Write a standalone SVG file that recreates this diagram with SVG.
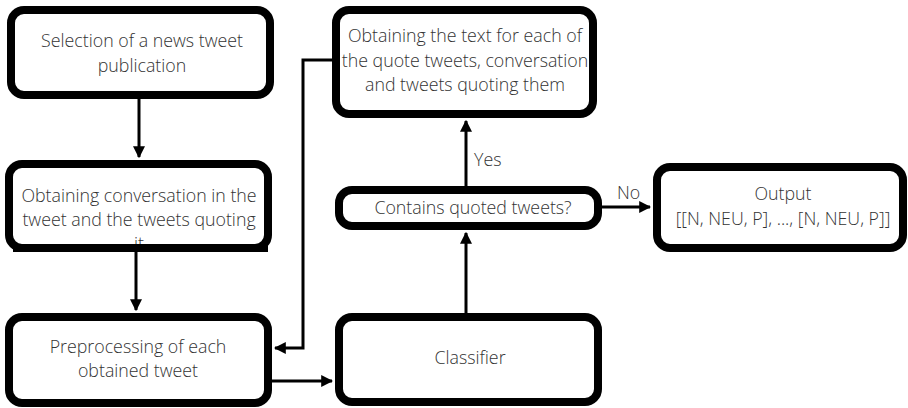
<svg xmlns="http://www.w3.org/2000/svg" width="908" height="408" viewBox="0 0 908 408">
<style>
.box{fill:#fff;stroke:#000;stroke-width:8}
.t{font-family:"Open Sans","Liberation Sans",sans-serif;font-weight:300;font-size:17.8px;fill:#333;text-anchor:middle}
.l{font-family:"Open Sans","Liberation Sans",sans-serif;font-weight:300;font-size:17.8px;fill:#333}
.c{fill:none;stroke:#000;stroke-width:3}
</style>
<defs>
<marker id="ah" viewBox="0 0 10 10" refX="9" refY="5" markerWidth="4" markerHeight="4" orient="auto" markerUnits="strokeWidth">
<path d="M0,0 L10,5 L0,10 z" fill="#000"/>
</marker>
</defs>
<g id="connectors">
<path class="c" d="M139,99 V157" marker-end="url(#ah)"/>
<path class="c" d="M136,252 V310" marker-end="url(#ah)"/>
<path class="c" d="M332,60 H303 V348 H275" marker-end="url(#ah)"/>
<path class="c" d="M272,381 H332" marker-end="url(#ah)"/>
<path class="c" d="M466,313 V233" marker-end="url(#ah)"/>
<path class="c" d="M466,186 V121" marker-end="url(#ah)"/>
<path class="c" d="M602,207 H650" marker-end="url(#ah)"/>
<text class="l" x="474" y="166">Yes</text>
<text class="l" x="617" y="199">No</text>
</g>
<g id="n1">
<rect class="box" x="11" y="10" width="259" height="85" rx="13"/>
<text class="t" x="142" y="47">Selection of a news tweet</text>
<text class="t" x="142" y="72">publication</text>
</g>
<g id="n2">
<rect class="box" x="9" y="164" width="259" height="84" rx="13"/>
<text class="t" x="139" y="202">Obtaining conversation in the</text>
<text class="t" x="139" y="226">tweet and the tweets quoting</text>
<text class="t" x="139" y="250">it</text>
<rect x="13" y="244" width="255" height="8" fill="#000"/>
</g>
<g id="n3">
<rect class="box" x="9" y="317" width="259" height="86" rx="13"/>
<text class="t" x="138" y="353">Preprocessing of each</text>
<text class="t" x="138" y="377">obtained tweet</text>
</g>
<g id="n4">
<rect class="box" x="336" y="10" width="257" height="104" rx="13"/>
<text class="t" x="465" y="42">Obtaining the text for each of</text>
<text class="t" x="465" y="67">the quote tweets, conversation</text>
<text class="t" x="465" y="91">and tweets quoting them</text>
</g>
<g id="n5">
<rect class="box" x="339" y="190" width="259" height="36" rx="13"/>
<text class="t" x="473" y="214">Contains quoted tweets?</text>
</g>
<g id="n6">
<rect class="box" x="339" y="317" width="259" height="85" rx="13"/>
<text class="t" x="470" y="364">Classifier</text>
</g>
<g id="n7">
<rect class="box" x="657" y="167" width="246" height="81" rx="13"/>
<text class="t" x="783" y="200">Output</text>
<text class="t" x="783" y="225">[[N, NEU, P], ..., [N, NEU, P]]</text>
</g>
</svg>
